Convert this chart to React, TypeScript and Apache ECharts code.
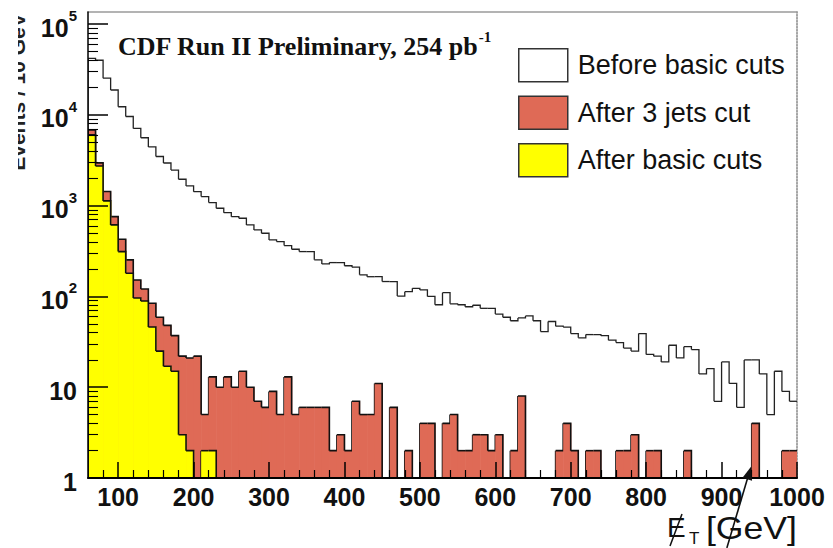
import React, { useEffect, useRef } from 'react';
import * as echarts from 'echarts';

// ---- data ----
const binLowEdges = [
  60, 70, 80, 90, 100, 110, 120, 130, 140, 150,
  160, 170, 180, 190, 200, 210, 220, 230, 240, 250,
  260, 270, 280, 290, 300, 310, 320, 330, 340, 350,
  360, 370, 380, 390, 400, 410, 420, 430, 440, 450,
  460, 470, 480, 490, 500, 510, 520, 530, 540, 550,
  560, 570, 580, 590, 600, 610, 620, 630, 640, 650,
  660, 670, 680, 690, 700, 710, 720, 730, 740, 750,
  760, 770, 780, 790, 800, 810, 820, 830, 840, 850,
  860, 870, 880, 890, 900, 910, 920, 930, 940, 950,
  960, 970, 980, 990,
];
const binWidth = 10;

const beforeBasicCuts = [
  42000, 40000, 25400, 18800, 12300, 9600, 7100, 5600, 4440, 3480,
  2950, 2470, 1955, 1651, 1428, 1259, 1081, 937, 838, 757,
  727, 614, 540, 497, 419, 402, 363, 331, 312, 312,
  253, 228, 236, 236, 218, 210, 173, 165, 165, 146,
  146, 101, 113, 123, 118, 100, 81, 110, 83, 81,
  77, 80, 74, 74, 64, 59, 54, 58, 61, 54,
  41, 53, 47, 46, 39, 35, 38, 38, 37, 33,
  31, 27, 25, 39, 23, 22, 19, 29, 21, 28,
  26, 14, 16, 7, 19, 11, 6, 20, 20, 14,
  5, 15, 9, 7,
];

const after3JetsCut = [
  6840, 2960, 1430, 757, 427, 253, 152, 121, 84, 59,
  48, 37, 22, 21, 22, 5, 13, 10, 13, 10,
  15, 10, 7, 6, 9, 5, 13, 5, 6, 6,
  6, 6, 2, 3, 2, 7, 5, 5, 11, 0,
  6, 0, 2, 0, 4, 4, 0, 4, 5, 2,
  2, 3, 3, 2, 3, 0, 2, 8, 0, 0,
  0, 0, 2, 4, 2, 0, 2, 2, 0, 0,
  2, 2, 3, 0, 2, 2, 0, 0, 0, 2,
  0, 0, 0, 0, 0, 0, 0, 0, 4, 0,
  0, 0, 2, 2,
];

const afterBasicCuts = [
  6030, 2740, 1128, 614, 312, 180, 96, 89, 46, 25,
  17, 15, 3, 2, 0, 2, 2, 0, 0, 0,
  0, 0, 0, 0, 0, 0, 0, 0, 0, 0,
  0, 0, 0, 0, 0, 0, 0, 0, 0, 0,
  0, 0, 0, 0, 0, 0, 0, 0, 0, 0,
  0, 0, 0, 0, 0, 0, 0, 0, 0, 0,
  0, 0, 0, 0, 0, 0, 0, 0, 0, 0,
  0, 0, 0, 0, 0, 0, 0, 0, 0, 0,
  0, 0, 0, 0, 0, 0, 0, 0, 0, 0,
  0, 0, 0, 0,
];

const seriesNames = ['Before basic cuts', 'After 3 jets cut', 'After basic cuts'];

const xMajorTicks = [100, 200, 300, 400, 500, 600, 700, 800, 900, 1000];
const xMinorTicks = [
  80, 120, 140, 160, 180, 220, 240, 260, 280, 320, 340, 360, 380, 420, 440, 460, 480,
  520, 540, 560, 580, 620, 640, 660, 680, 720, 740, 760, 780, 820, 840, 860, 880,
  920, 940, 960, 980,
];
const yMajorTicks = [1, 10, 100, 1000, 10000, 100000];
const yMinorTicks = [
  2, 3, 4, 5, 6, 7, 8, 9,
  20, 30, 40, 50, 60, 70, 80, 90,
  200, 300, 400, 500, 600, 700, 800, 900,
  2000, 3000, 4000, 5000, 6000, 7000, 8000, 9000,
  20000, 30000, 40000, 50000, 60000, 70000, 80000, 90000,
];

const X_MIN = 60;
const X_MAX = 1000;
const Y_MIN = 1;
const Y_MAX = 136000;

const titleText = 'CDF Run II Preliminary, 254 pb';
const titleSup = '-1';
const yTitle = 'Events / 10 GeV';

// annotation arrow in data coordinates (tail below the axis, tip at the 940 GeV bin)
const arrowTail = [907, 0.17];
const arrowTip = [939, 1.33];

const RED = '#df6a56';
const YELLOW = '#ffff00';
const SANS = "'Liberation Sans', Arial, Helvetica, sans-serif";
const SERIF = "'Liberation Serif', 'Times New Roman', serif";

function histogramItems(values: number[]) {
  return values.map((v, i) => [
    binLowEdges[i],
    binLowEdges[i] + binWidth,
    v,
    i + 1 < values.length ? values[i + 1] : -1,
  ]);
}

function stepRenderer(fill: string | null, stroke: string, lineWidth: number) {
  return (params: any, api: any) => {
    const x0 = api.value(0) as number;
    const x1 = api.value(1) as number;
    const v = api.value(2) as number;
    const vNext = api.value(3) as number;
    const base = api.coord([x0, 1]);
    const px0 = base[0];
    const yBase = base[1];
    const px1 = api.coord([x1, 1])[0];
    const yTop = v > 0 ? api.coord([x0, v])[1] : yBase;
    const children: any[] = [];
    if (fill && v > 0) {
      children.push({
        type: 'rect',
        shape: { x: px0, y: yTop, width: px1 - px0 + 0.6, height: yBase - yTop },
        style: { fill },
      });
    }
    const pts: number[][] = [];
    if (params.dataIndex === 0) pts.push([px0, yBase]);
    pts.push([px0, yTop], [px1, yTop]);
    if (vNext >= 0) pts.push([px1, vNext > 0 ? api.coord([x1, vNext])[1] : yBase]);
    children.push({
      type: 'polyline',
      shape: { points: pts },
      style: { fill: null, stroke, lineWidth, lineJoin: 'miter' },
    });
    return { type: 'group', children };
  };
}

function yLabel(v: number) {
  const e = Math.round(Math.log10(v));
  if (e === 0) return '{m|1}';
  if (e === 1) return '{m|10}';
  return `{m|10}{s|${e}}`;
}

export default function App() {
  const ref = useRef<HTMLDivElement>(null);

  useEffect(() => {
    if (!ref.current) return;
    const chart = echarts.init(ref.current, undefined, { renderer: 'svg' });

    const baseX = {
      type: 'value',
      min: X_MIN,
      max: X_MAX,
      splitLine: { show: false },
    };
    const baseY = {
      type: 'log',
      logBase: 10,
      min: Y_MIN,
      max: Y_MAX,
      splitLine: { show: false },
    };

    const option: any = {
      animation: false,
      backgroundColor: '#ffffff',
      grid: { left: 88, right: 36, top: 12, bottom: 70, outerBoundsMode: 'none' },
      legend: {
        orient: 'vertical',
        left: 513,
        top: 43,
        itemWidth: 49,
        itemHeight: 33,
        itemGap: 13,
        selectedMode: false,
        textStyle: { fontSize: 27, fontFamily: SANS, color: '#111', padding: [0, 0, 0, 5] },
        data: [
          { name: seriesNames[0], icon: 'rect', itemStyle: { color: '#ffffff', borderColor: '#333', borderWidth: 1.5 } },
          { name: seriesNames[1], icon: 'rect', itemStyle: { color: RED, borderColor: '#333', borderWidth: 1.5 } },
          { name: seriesNames[2], icon: 'rect', itemStyle: { color: YELLOW, borderColor: '#333', borderWidth: 1.5 } },
        ],
      },
      xAxis: [
        {
          ...baseX,
          position: 'bottom',
          z: 10,
          axisLine: { show: true, onZero: false, lineStyle: { color: '#000', width: 2 } },
          axisTick: { show: true, inside: true, length: 16, customValues: xMajorTicks, lineStyle: { color: '#000', width: 1.5 } },
          axisLabel: {
            show: true,
            customValues: xMajorTicks,
            formatter: (v: number) => String(v),
            fontSize: 25,
            fontWeight: 'bold',
            fontFamily: SANS,
            color: '#111',
            margin: 6,
          },
        },
        {
          ...baseX,
          position: 'bottom',
          z: 10,
          axisLine: { show: false, onZero: false },
          axisTick: { show: true, inside: true, length: 8, customValues: xMinorTicks, lineStyle: { color: '#000', width: 1.2 } },
          axisLabel: { show: false },
        },
        {
          ...baseX,
          position: 'top',
          axisLine: { show: true, onZero: false, lineStyle: { color: '#9a9a9a', width: 1.5 } },
          axisTick: { show: false },
          axisLabel: { show: false },
        },
      ],
      yAxis: [
        {
          ...baseY,
          position: 'left',
          z: 10,
          axisLine: { show: true, onZero: false, lineStyle: { color: '#000', width: 1.5 } },
          axisTick: { show: true, inside: true, length: 20, customValues: yMajorTicks, lineStyle: { color: '#000', width: 1.5 } },
          axisLabel: {
            show: true,
            customValues: yMajorTicks,
            formatter: yLabel,
            margin: 11,
            rich: {
              m: { fontSize: 25, fontWeight: 'bold', fontFamily: SANS, color: '#111', lineHeight: 32, verticalAlign: 'bottom' },
              s: { fontSize: 15, fontWeight: 'bold', fontFamily: SANS, color: '#111', lineHeight: 14, verticalAlign: 'top' },
            },
          },
        },
        {
          ...baseY,
          position: 'left',
          z: 10,
          axisLine: { show: false, onZero: false },
          axisTick: { show: true, inside: true, length: 10, customValues: yMinorTicks, lineStyle: { color: '#000', width: 1.1 } },
          axisLabel: { show: false },
        },
        {
          type: 'value',
          min: 0,
          max: 1,
          position: 'right',
          splitLine: { show: false },
          axisLine: { show: true, onZero: false, lineStyle: { color: '#888', width: 1.5, type: 'dotted' } },
          axisTick: { show: false },
          axisLabel: { show: false },
        },
      ],
      series: [
        {
          name: seriesNames[1],
          type: 'custom',
          coordinateSystem: 'cartesian2d',
          xAxisIndex: 0,
          yAxisIndex: 0,
          data: histogramItems(after3JetsCut),
          encode: { x: 0, y: 2 },
          renderItem: stepRenderer(RED, '#111', 1.6),
          clip: true,
          silent: true,
          z: 2,
          itemStyle: { color: RED },
        },
        {
          name: seriesNames[2],
          type: 'custom',
          coordinateSystem: 'cartesian2d',
          xAxisIndex: 0,
          yAxisIndex: 0,
          data: histogramItems(afterBasicCuts),
          encode: { x: 0, y: 2 },
          renderItem: stepRenderer(YELLOW, '#111', 1.6),
          clip: true,
          silent: true,
          z: 3,
          itemStyle: { color: YELLOW },
        },
        {
          name: seriesNames[0],
          type: 'custom',
          coordinateSystem: 'cartesian2d',
          xAxisIndex: 0,
          yAxisIndex: 0,
          data: histogramItems(beforeBasicCuts),
          encode: { x: 0, y: 2 },
          renderItem: stepRenderer(null, '#222', 1.3),
          clip: true,
          silent: true,
          z: 4,
          itemStyle: { color: '#ffffff' },
        },
      ],
    };

    chart.setOption(option);

    // arrow annotation, positioned through the chart's own scales
    const finder = { xAxisIndex: 0, yAxisIndex: 0 };
    const t = chart.convertToPixel(finder as any, arrowTail) as number[];
    const h = chart.convertToPixel(finder as any, arrowTip) as number[];
    const dx = h[0] - t[0];
    const dy = h[1] - t[1];
    const len = Math.sqrt(dx * dx + dy * dy) || 1;
    const ux = dx / len;
    const uy = dy / len;
    const nx = -uy;
    const ny = ux;
    const headLen = 13;
    const headHalf = 5;
    const bx = h[0] - ux * headLen;
    const by = h[1] - uy * headLen;

    chart.setOption({
      graphic: {
        elements: [
          {
            type: 'text',
            id: 'title',
            x: 118,
            y: 29,
            z: 20,
            style: {
              text: `{a|${titleText}}{s|${titleSup}}`,
              verticalAlign: 'top',
              rich: {
                a: { fontSize: 26, fontWeight: 'bold', fontFamily: SERIF, fill: '#111', lineHeight: 30, verticalAlign: 'bottom' },
                s: { fontSize: 15, fontWeight: 'bold', fontFamily: SERIF, fill: '#111', lineHeight: 14, verticalAlign: 'top' },
              },
            },
          },
          {
            type: 'text',
            id: 'ytitle',
            x: 17,
            y: 92,
            rotation: Math.PI / 2,
            z: 20,
            style: {
              text: yTitle,
              font: `bold 21px ${SANS}`,
              fill: '#222',
              align: 'center',
              verticalAlign: 'middle',
            },
          },
          {
            type: 'rect',
            id: 'ytitleMask',
            z: 21,
            shape: { x: 0, y: 0, width: 18, height: 180 },
            style: { fill: '#ffffff' },
          },
          {
            type: 'text',
            id: 'xtitleE',
            x: 667,
            y: 527,
            z: 20,
            style: { text: 'E', font: `28px ${SANS}`, fill: '#111', verticalAlign: 'middle' },
          },
          {
            type: 'text',
            id: 'xtitleT',
            x: 689,
            y: 538,
            z: 20,
            style: { text: 'T', font: `17px ${SANS}`, fill: '#111', verticalAlign: 'middle' },
          },
          {
            type: 'text',
            id: 'xtitleUnit',
            x: 797,
            y: 528,
            scaleX: 1.15,
            z: 20,
            style: { text: '[GeV]', font: `31px ${SANS}`, fill: '#111', align: 'right', verticalAlign: 'middle' },
          },
          {
            type: 'line',
            id: 'xtitleSlash',
            z: 21,
            shape: { x1: 670, y1: 546, x2: 682, y2: 514 },
            style: { stroke: '#111', lineWidth: 1.5 },
          },
          {
            type: 'line',
            id: 'arrowLine',
            z: 22,
            shape: { x1: t[0], y1: t[1], x2: bx + ux * 2, y2: by + uy * 2 },
            style: { stroke: '#111', lineWidth: 1.6 },
          },
          {
            type: 'polygon',
            id: 'arrowHead',
            z: 22,
            shape: {
              points: [
                [h[0], h[1]],
                [bx + nx * headHalf, by + ny * headHalf],
                [bx - nx * headHalf, by - ny * headHalf],
              ],
            },
            style: { fill: '#111' },
          },
        ],
      },
    });

    return () => {
      chart.dispose();
    };
  }, []);

  return (
    <div
      ref={ref}
      style={{ position: 'fixed', left: 0, top: 0, width: 833, height: 548, background: '#fff' }}
    />
  );
}
